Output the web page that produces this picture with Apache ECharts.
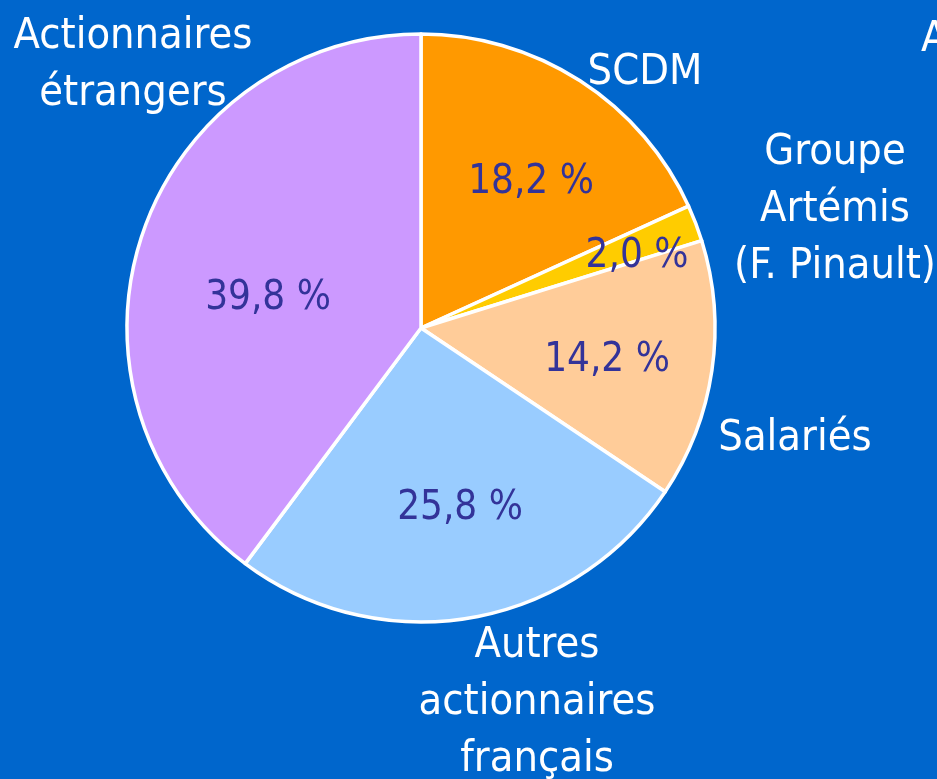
<!DOCTYPE html>
<html>
<head>
<meta charset="utf-8">
<script src="https://cdn.jsdelivr.net/npm/echarts@6/dist/echarts.min.js"></script>
<style>
  html, body { margin: 0; padding: 0; background: #0066CC; }
  #main { width: 937px; height: 779px; }
</style>
</head>
<body>
<div id="main"></div>
<script>
// répartition du capital
const categories = ['SCDM', 'Groupe\nArtémis\n(F. Pinault)', 'Salariés', 'Autres\nactionnaires\nfrançais', 'Actionnaires\nétrangers'];
const shares = [18.2, 2.0, 14.2, 25.8, 39.8];
const shareLabels = ['18,2 %', '2,0 %', '14,2 %', '25,8 %', '39,8 %'];

const colors = ['#FF9900', '#FFCC00', '#FFCC99', '#99CCFF', '#CC99FF'];
// label anchor points (pixels)
const pctPos = [[531, 183], [637, 257], [607, 361], [460, 509], [268, 299]];
const namePos = [[645, 73], [835, 210], [795, 439], [537, 703], [133, 65]];

const font = '"Liberation Sans Narrow", "DejaVu Sans Condensed", Arial, sans-serif';

var chart = echarts.init(document.getElementById('main'), null, { renderer: 'canvas' });

var pieData = categories.map(function (c, i) {
    return { name: c, value: shares[i], itemStyle: { color: colors[i] } };
});

var option = {
    backgroundColor: '#0066CC',
    animation: false,
    graphic: [{
        type: 'text',
        left: 921, top: 18,
        style: { text: 'A', fill: '#fff', font: '43px ' + font }
    }],
    series: [
        {
            type: 'pie',
            center: [421, 328],
            radius: 294,
            startAngle: 90,
            clockwise: true,
            silent: true,
            itemStyle: { borderColor: '#fff', borderWidth: 3.5 },
            label: {
                show: true,
                position: 'inside',
                color: '#333399',
                fontFamily: font,
                fontSize: 40,
                formatter: function (p) { return shareLabels[p.dataIndex]; }
            },
            labelLine: { show: false },
            labelLayout: function (p) {
                var q = pctPos[p.dataIndex];
                return { x: q[0], y: q[1], align: 'center', verticalAlign: 'middle' };
            },
            data: pieData
        },
        {
            type: 'pie',
            center: [421, 328],
            radius: 294,
            startAngle: 90,
            clockwise: true,
            silent: true,
            itemStyle: { color: 'rgba(0,0,0,0)', borderWidth: 0 },
            label: {
                show: true,
                position: 'inside',
                color: '#fff',
                fontFamily: font,
                fontSize: 43,
                lineHeight: 57,
                formatter: '{b}'
            },
            labelLine: { show: false },
            labelLayout: function (p) {
                var q = namePos[p.dataIndex];
                return { x: q[0], y: q[1], align: 'center', verticalAlign: 'middle' };
            },
            data: categories.map(function (c, i) { return { name: c, value: shares[i] }; })
        }
    ]
};

chart.setOption(option);
</script>
</body>
</html>
